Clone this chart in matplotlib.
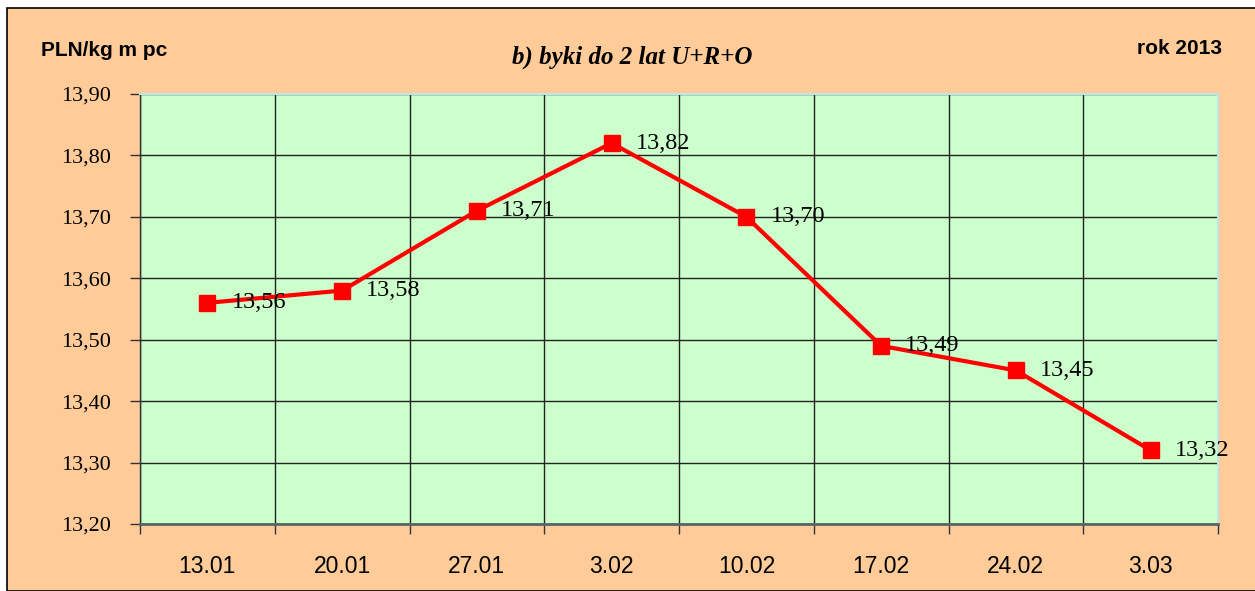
import matplotlib
matplotlib.use("Agg")
import matplotlib.pyplot as plt
from matplotlib.patches import Rectangle
import numpy as np

categories = ["13.01", "20.01", "27.01", "3.02", "10.02", "17.02", "24.02", "3.03"]
prices = [13.56, 13.58, 13.71, 13.82, 13.70, 13.49, 13.45, 13.32]
y_ticks = [13.20, 13.30, 13.40, 13.50, 13.60, 13.70, 13.80, 13.90]

W, H = 1255, 591
fig = plt.figure(figsize=(W / 100, H / 100), dpi=100)
fig.patch.set_facecolor("white")

# outer peach frame
fig.patches.append(Rectangle((7 / W, 0), 1.2, (H - 8) / H, transform=fig.transFigure,
                             facecolor="#FFCC99", edgecolor="black", linewidth=1.2, zorder=-10))

ax = fig.add_axes([140 / W, 1 - 524 / H, (1218 - 140) / W, (524 - 94) / H])
ax.set_facecolor("#CCFFCC")

x = np.arange(len(categories))
ax.plot(x, prices, color="#FF0000", linewidth=3, marker="s", markersize=12,
        markerfacecolor="#FF0000", markeredgecolor="#FF0000", zorder=5, clip_on=False)

for xi, v in zip(x, prices):
    ax.annotate(f"{v:.2f}".replace(".", ","), (xi, v), xytext=(24, 0), textcoords="offset pixels",
                ha="left", va="center", fontsize=17.5, family="Liberation Serif", color="black",
                zorder=6)

ax.set_xlim(-0.5, len(categories) - 0.5)
ax.set_ylim(13.20, 13.90)
ax.set_yticks(y_ticks)
ax.set_yticklabels([f"{t:.2f}".replace(".", ",") for t in y_ticks],
                   family="Liberation Serif", fontsize=16)
ax.set_xticks(x)
ax.set_xticklabels(categories, family="Liberation Sans", fontsize=16.5)
ax.set_xticks(np.arange(len(categories) + 1) - 0.5, minor=True)

ax.tick_params(axis="x", which="major", length=0, pad=22)
ax.tick_params(axis="x", which="minor", length=7, width=1, color="#333333", direction="out")
ax.tick_params(axis="y", which="major", length=7, width=1, color="#333333", pad=14)

ax.grid(True, axis="y", which="major", color="#222222", linewidth=1)
ax.grid(True, axis="x", which="minor", color="#222222", linewidth=1)
ax.set_axisbelow(True)

ax.spines["left"].set_color("#333333")
ax.spines["left"].set_linewidth(1)
ax.spines["bottom"].set_color("#556666")
ax.spines["bottom"].set_linewidth(2)
ax.spines["top"].set_color("#BFE6E6")
ax.spines["right"].set_color("#BFE6E6")
ax.spines["top"].set_linewidth(1.5)
ax.spines["right"].set_linewidth(1.5)

fig.text(41 / W, 1 - 50 / H, "PLN/kg m pc", ha="left", va="center", fontsize=15,
         family="Liberation Sans", weight="bold")
fig.text(632 / W, 1 - 57 / H, "b) byki do 2 lat U+R+O", ha="center", va="center", fontsize=18,
         family="Liberation Serif", weight="bold", style="italic")
fig.text(1222 / W, 1 - 48 / H, "rok 2013", ha="right", va="center", fontsize=15,
         family="Liberation Sans", weight="bold")

fig.savefig("out.png", dpi=100, facecolor=fig.get_facecolor())
